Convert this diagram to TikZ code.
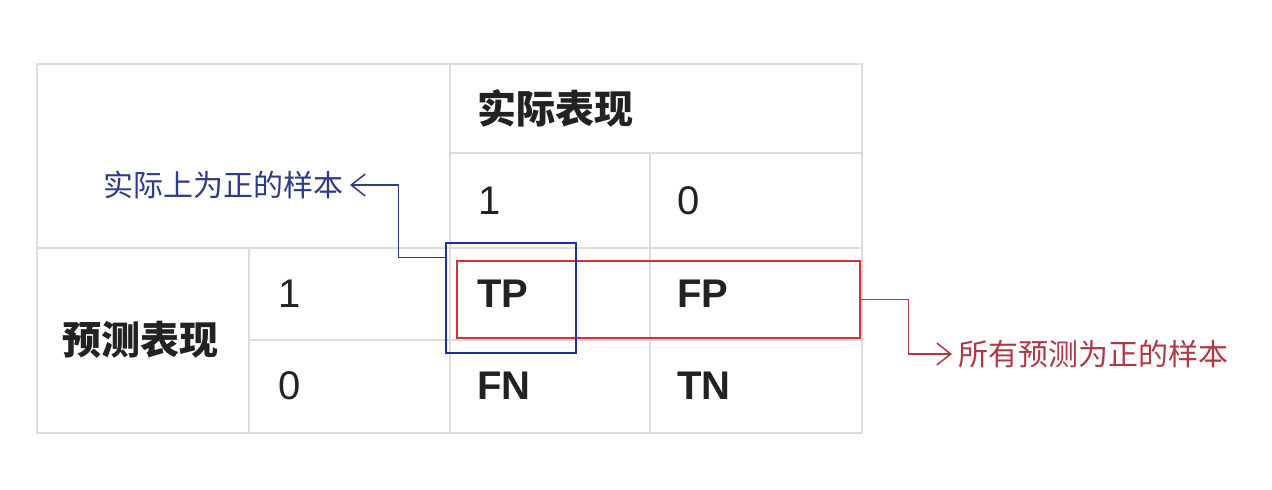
\documentclass[tikz,border=0pt]{standalone}
\usepackage{fontspec}
\setmainfont{Liberation Sans}
\newfontfamily\cjk{Noto Sans CJK SC}
\usetikzlibrary{arrows.meta}
\definecolor{gridgray}{HTML}{DDDDDD}
\definecolor{textgray}{HTML}{222222}
\definecolor{boxblue}{HTML}{1C2FA8}
\definecolor{boxred}{HTML}{D33232}
\definecolor{noteblue}{HTML}{2E3A8C}
\definecolor{notered}{HTML}{B03844}
\begin{document}
\begin{tikzpicture}[x=0.5pt, y=-0.5pt,
    grid/.style={gridgray, line width=1pt},
    cell/.style={anchor=west, inner sep=0pt, textgray, font=\fontsize{20}{20}\selectfont},
    head/.style={anchor=west, inner sep=0pt, textgray, font=\cjk\bfseries\fontsize{19.5}{20}\selectfont},
    note/.style={inner sep=3pt, font=\cjk\fontsize{15}{15}\selectfont},
    markbox/.style={draw, line width=1.4pt, minimum width=0pt, inner sep=0pt},
    link/.style={line width=0.75pt, -{Straight Barb[length=7pt, width=11pt]}}]
  \useasboundingbox (0, 0) rectangle (1272, 490);
  % table lines
  \draw[grid] (37, 64) rectangle (862, 433);
  \draw[grid] (37, 248) -- (862, 248);
  \draw[grid] (450, 153) -- (862, 153);
  \draw[grid] (249, 340) -- (862, 340);
  \draw[grid] (450, 64) -- (450, 433);
  \draw[grid] (650, 153) -- (650, 433);
  \draw[grid] (249, 248) -- (249, 433);
  % headers
  \node[head] (actual) at (477, 108) {实际表现};
  \node[head] (predicted) at (62, 340) {预测表现};
  \node[cell] (act1) at (478, 201) {1};
  \node[cell] (act0) at (677, 201) {0};
  \node[cell] (pred1) at (278, 294) {1};
  \node[cell] (pred0) at (278, 386) {0};
  % cells
  \node[cell, font=\bfseries\fontsize{20}{20}\selectfont] (tp) at (477, 294) {TP};
  \node[cell, font=\bfseries\fontsize{20}{20}\selectfont] (fp) at (677, 294) {FP};
  \node[cell, font=\bfseries\fontsize{20}{20}\selectfont] (fn) at (477, 386) {FN};
  \node[cell, font=\bfseries\fontsize{20}{20}\selectfont] (tn) at (677, 386) {TN};
  % marked boxes
  \node[markbox, boxred, minimum width=201.5pt, minimum height=38.5pt] (allpos) at (658.5, 299.5) {};
  \node[markbox, boxblue, minimum width=65pt, minimum height=55pt] (truepos) at (511, 298) {};
  % notes
  \node[note, noteblue, anchor=east] (truenote) at (350, 185) {实际上为正的样本};
  \node[note, notered, anchor=west] (allnote) at (952, 354) {所有预测为正的样本};
  \draw[link, noteblue] (truepos.north west) ++(0, 16) -- ++(-46, 0) |- (truenote.east);
  \draw[link, notered] (allpos.east) -- ++(47, 0) |- (allnote.west);
\end{tikzpicture}
\end{document}
